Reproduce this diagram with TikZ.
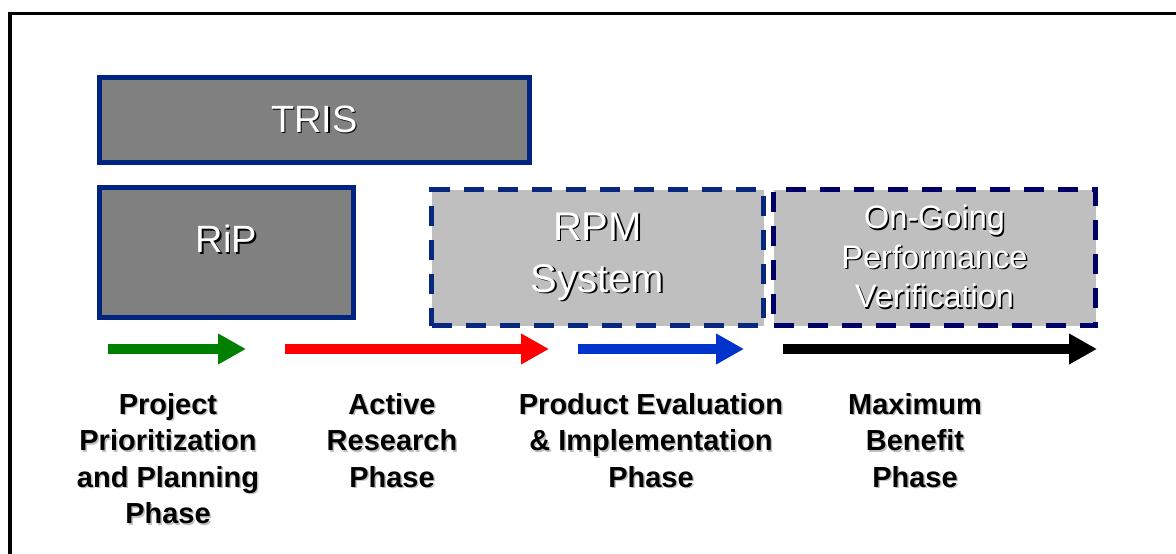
\documentclass[tikz,border=0pt]{standalone}
\usepackage{fontspec}
\setmainfont{Liberation Sans}
\usetikzlibrary{arrows.meta}
\definecolor{boxnavy}{RGB}{0,36,128}
\definecolor{dashnavy}{RGB}{8,40,128}
\definecolor{darknavy}{RGB}{0,0,102}
\definecolor{phgreen}{RGB}{0,128,0}
\definecolor{phblue}{RGB}{0,51,204}
% text with a small drop shadow
\newcommand\shd[2][black]{\leavevmode\rlap{\kern1.5pt\raisebox{-1.5pt}{\textcolor{#1}{#2}}}#2}
\tikzset{
  darkbox/.style={draw=boxnavy,line width=5pt,fill=black!50,text=white,inner sep=0pt,
    font=\fontsize{38}{44}\selectfont},
  dashbox/.style={draw=dashnavy,line width=5pt,dash pattern=on 20pt off 14pt,fill=black!25,
    text=white,inner sep=0pt,align=center,minimum width=332pt,minimum height=136pt},
  phase/.style={anchor=north,align=center,inner sep=0pt,font=\bfseries\fontsize{29}{36.5}\selectfont},
  phasearrow/.style={line width=10pt,-{Triangle[length=28pt,width=29pt]}}
}
\begin{document}
\begin{tikzpicture}[x=1pt,y=-1pt]
\useasboundingbox (0,0) rectangle (1176,554);
\draw[line width=3.5pt] (10,570) |- (1190,13.5);
% boxes
\node[darkbox,minimum width=430pt,minimum height=85pt] (tris) at (314.5,120) {\shd{TRIS}};
\node[darkbox,minimum width=254pt,minimum height=130pt,text height=20pt,text depth=20pt] (rip) at (226.5,252.5) {\shd{RiP}};
\node[dashbox,font=\fontsize{40}{52}\selectfont] (rpm) at (597.5,257.5) {\shd{RPM}\\\shd{System}};
\node[dashbox,draw=darknavy,minimum width=322pt,font=\fontsize{32.5}{39.5}\selectfont] (ogpv) at (934.5,257.5)
  {\shd{On-Going}\\\shd{Performance}\\\shd{Verification}};
% phase arrows
\draw[phasearrow,phgreen] (108,349)--(246,349);
\draw[phasearrow,red] (285,349)--(549,349);
\draw[phasearrow,phblue] (578,349)--(744,349);
\draw[phasearrow,black] (783,349)--(1097,349);
% phase labels
\node[phase] (pp) at (168,393) {\shd[black!25]{Project}\\\shd[black!25]{Prioritization}\\\shd[black!25]{and Planning}\\\shd[black!25]{Phase}};
\node[phase] (ar) at (392,393) {\shd[black!25]{Active}\\\shd[black!25]{Research}\\\shd[black!25]{Phase}};
\node[phase] (pe) at (651,393) {\shd[black!25]{Product Evaluation}\\\shd[black!25]{\& Implementation}\\\shd[black!25]{Phase}};
\node[phase] (mb) at (915,393) {\shd[black!25]{Maximum}\\\shd[black!25]{Benefit}\\\shd[black!25]{Phase}};
\end{tikzpicture}
\end{document}
